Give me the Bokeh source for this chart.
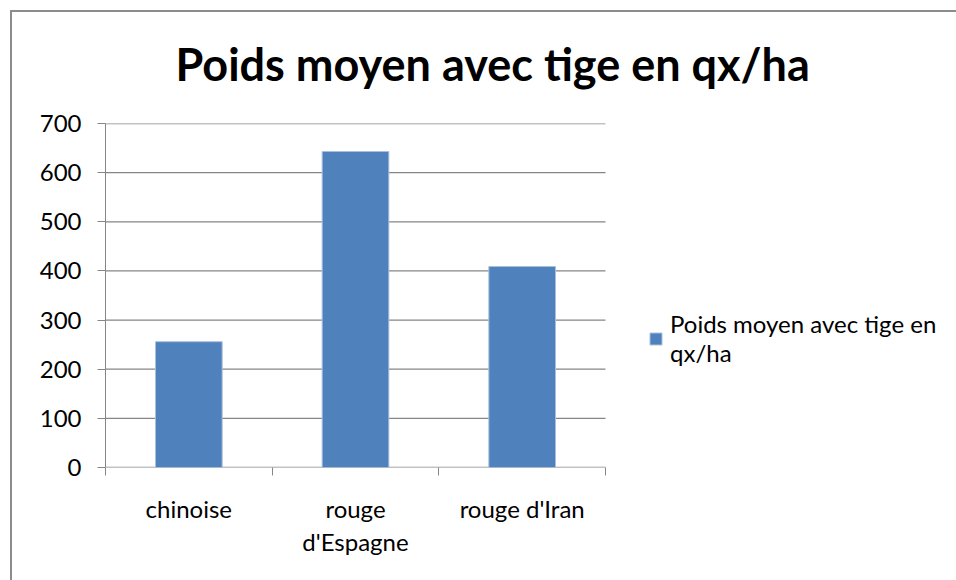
from bokeh.plotting import figure
from bokeh.models import (Range1d, FixedTicker, SingleIntervalTicker, Legend,
                          LegendItem, ColumnDataSource, Title)
from bokeh.embed import file_html
from bokeh.resources import INLINE

# ---- data ----
title_text = "Poids moyen avec tige en qx/ha"
series_name = "Poids moyen avec tige en\nqx/ha"
categories = ["chinoise", "rouge\nd'Espagne", "rouge d'Iran"]
values = [256, 643, 409]
y_ticks_step = 100
y_max = 700

GRAY = "#868686"
BLUE = "#4F81BD"
FONT = "Lato"

n = len(categories)
centers = [i + 0.5 for i in range(n)]
bounds = [float(i) for i in range(n + 1)]
y_tick_values = list(range(0, y_max + 1, y_ticks_step))

# plot area occupies the left part of the frame; the legend sits in the rest
W, H = 956, 580
LEFT, TOP, BOTTOM = 105, 123, 113
PLOT_W = 500
x_end = n * (W - LEFT) / PLOT_W

src = ColumnDataSource(dict(x=centers, top=values, cat=categories))

p = figure(width=W, height=H, x_range=Range1d(0, x_end), y_range=Range1d(0, y_max),
           output_backend="svg", toolbar_location=None,
           min_border_left=LEFT, min_border_right=0, min_border_top=TOP, min_border_bottom=BOTTOM)
p.outline_line_color = None
p.background_fill_color = "white"
p.border_fill_color = None
p.styles = {"box-shadow": "inset 10px 10px 0 0 #ffffff, inset 12px 12px 0 0 #8C8C8C"}

# horizontal gridlines limited to the plot area
p.segment(x0=[0] * len(y_tick_values), x1=[n] * len(y_tick_values),
          y0=y_tick_values, y1=y_tick_values, line_color=GRAY, line_width=1.3)

r = p.vbar(x="x", top="top", width=0.4, source=src, fill_color=BLUE, line_color="#A9C0DD", line_width=1)

# title
p.title = Title(text=title_text, align="left", offset=70, standoff=66,
                text_font=FONT, text_font_style="bold", text_font_size="45px", text_color="black")

# y axis
p.yaxis.ticker = SingleIntervalTicker(interval=y_ticks_step, num_minor_ticks=0)
p.yaxis.axis_line_color = GRAY
p.yaxis.major_tick_line_color = GRAY
p.yaxis.major_tick_in = 0
p.yaxis.major_tick_out = 8
p.yaxis.minor_tick_line_color = None
p.yaxis.major_label_standoff = 16
p.yaxis.major_label_text_font = FONT
p.yaxis.major_label_text_font_size = "24px"
p.yaxis.major_label_text_color = "black"

# x axis: category labels at centres, tick marks at boundaries
p.xaxis.ticker = FixedTicker(ticks=centers, minor_ticks=bounds)
p.xaxis.major_label_overrides = {c: lab for c, lab in zip(centers, categories)}
p.xaxis.axis_line_color = None
p.xaxis.major_tick_line_color = None
p.xaxis.major_tick_in = 0
p.xaxis.major_tick_out = 0
p.xaxis.minor_tick_line_color = GRAY
p.xaxis.minor_tick_in = 0
p.xaxis.minor_tick_out = 8
p.xaxis.major_label_standoff = 18
p.xaxis.major_label_text_font = FONT
p.xaxis.major_label_text_font_size = "24px"
p.xaxis.major_label_text_color = "black"
p.xaxis.major_label_text_line_height = 1.15

p.xgrid.grid_line_color = None
p.ygrid.grid_line_color = None

legend = Legend(items=[LegendItem(label=series_name, renderers=[r])], location=(543, 100),
                glyph_width=15, glyph_height=15, label_standoff=7, padding=0, margin=0,
                border_line_color=None, background_fill_alpha=0,
                label_text_font=FONT, label_text_font_size="24px", label_text_line_height=1.55,
                label_text_color="black")
p.add_layout(legend)

open("out.html", "w").write(file_html(p, INLINE))
